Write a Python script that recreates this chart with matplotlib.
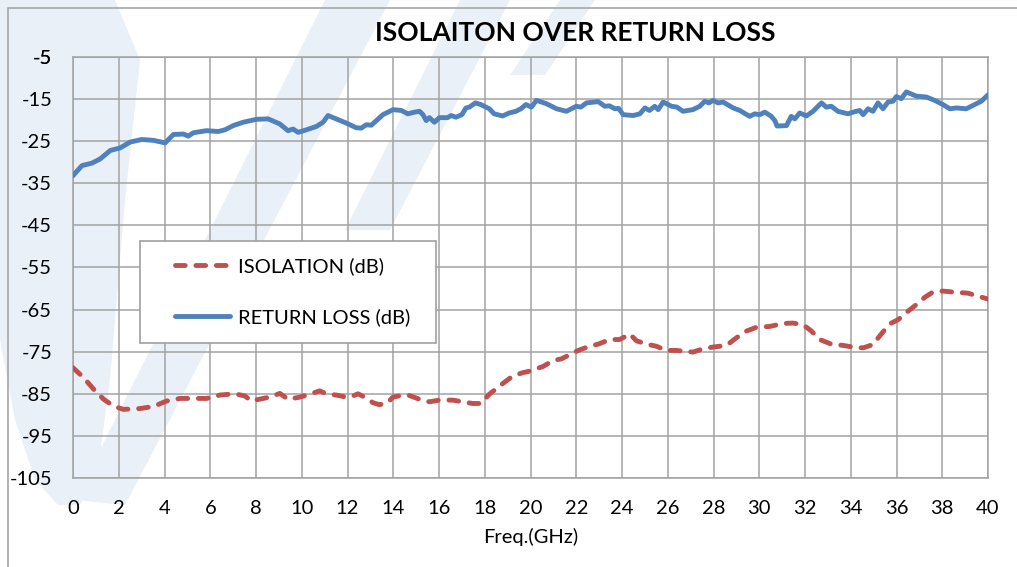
import matplotlib
matplotlib.use("Agg")
import matplotlib.pyplot as plt
from matplotlib.patches import Polygon, Rectangle

plt.rcParams['font.family'] = ['Lato', 'DejaVu Sans']
plt.rcParams['axes.unicode_minus'] = False

# return loss (blue, solid)
rl_freq = [0, 0.39, 0.83, 1.19, 1.63, 2.06, 2.5, 3.0, 3.52, 4.03,
           4.39, 4.83, 5.04, 5.26, 5.84, 6.35, 6.64, 7.0, 7.44, 8.02,
           8.53, 9.04, 9.4, 9.62, 9.84, 10.2, 10.64, 10.93, 11.15, 11.5,
           11.95, 12.38, 12.6, 12.82, 13.04, 13.55, 13.99, 14.35, 14.64, 14.93,
           15.15, 15.3, 15.44, 15.58, 15.8, 16.02, 16.38, 16.53, 16.74, 17.0,
           17.18, 17.33, 17.59, 17.83, 18.2, 18.41, 18.78, 19.07, 19.36, 19.58,
           19.8, 20.04, 20.26, 20.7, 21.14, 21.57, 22.0, 22.2, 22.45, 22.96,
           23.25, 23.45, 23.69, 23.85, 24.05, 24.49, 24.78, 25.0, 25.2, 25.43,
           25.58, 25.8, 26.16, 26.4, 26.67, 27.1, 27.4, 27.62, 27.8, 27.98,
           28.2, 28.42, 28.86, 29.15, 29.58, 29.8, 30.02, 30.24, 30.53, 30.68,
           30.78, 31.19, 31.4, 31.55, 31.77, 32.06, 32.35, 32.72, 32.93, 33.15,
           33.44, 33.88, 34.1, 34.39, 34.54, 34.76, 34.97, 35.19, 35.41, 35.63,
           35.85, 35.99, 36.21, 36.43, 36.87, 37.3, 37.67, 38.03, 38.33, 38.62,
           39.05, 39.34, 39.71, 40.0]
rl_db = [-33.2, -30.8, -30.2, -29.2, -27.2, -26.6, -25.2, -24.6, -24.8, -25.4,
         -23.4, -23.3, -23.8, -23.0, -22.5, -22.7, -22.3, -21.3, -20.5, -19.8,
         -19.7, -20.9, -22.5, -22.1, -22.9, -22.3, -21.5, -20.5, -18.9, -19.7,
         -20.7, -21.8, -21.9, -21.1, -21.2, -18.7, -17.5, -17.7, -18.5, -18.1,
         -17.9, -18.7, -20.1, -19.4, -20.5, -19.4, -19.4, -18.9, -19.3, -18.7,
         -17.1, -16.9, -15.9, -16.3, -17.3, -18.5, -19.0, -18.3, -17.9, -17.3,
         -16.3, -16.9, -15.3, -16.1, -17.3, -17.9, -16.7, -16.9, -15.9, -15.6,
         -16.7, -16.6, -17.3, -17.2, -18.7, -18.9, -18.5, -17.1, -17.7, -16.7,
         -17.5, -15.7, -16.7, -16.9, -17.9, -17.5, -16.7, -15.5, -15.9, -15.3,
         -15.9, -15.7, -17.1, -17.7, -19.1, -18.5, -18.7, -18.1, -19.1, -20.1,
         -21.4, -21.3, -19.1, -19.7, -18.3, -19.0, -17.9, -15.9, -16.9, -16.7,
         -17.9, -18.5, -18.1, -17.7, -18.7, -17.3, -17.9, -15.9, -17.3, -15.7,
         -15.5, -14.4, -14.9, -13.3, -14.3, -14.5, -15.3, -16.3, -17.3, -17.1,
         -17.3, -16.5, -15.5, -14.0]

# isolation (red, dashed)
iso_freq = [0, 0.47, 0.9, 1.34, 1.77, 2.2, 2.94, 3.52, 4.1, 4.68,
            5.26, 5.84, 6.42, 7.08, 7.51, 7.8, 8.31, 8.6, 9.04, 9.4,
            9.91, 10.35, 10.78, 11.08, 11.51, 11.95, 12.2, 12.46, 12.75, 13.11,
            13.4, 13.76, 13.98, 14.42, 14.7, 15.15, 15.58, 16.02, 16.6, 17.03,
            17.47, 17.83, 18.2, 18.78, 19.22, 19.65, 19.97, 20.55, 20.99, 21.35,
            21.72, 22.08, 22.59, 22.96, 23.47, 23.9, 24.34, 24.63, 25.07, 25.5,
            25.94, 26.38, 27.1, 27.55, 27.98, 28.57, 29.0, 29.44, 29.88, 30.46,
            31.04, 31.48, 31.92, 32.28, 32.64, 33.15, 33.66, 34.1, 34.54, 34.97,
            35.26, 35.7, 36.07, 36.5, 36.87, 37.23, 37.6, 38.03, 38.62, 39.13,
            39.56, 40.0]
iso_db = [-78.8, -81.2, -83.9, -86.3, -87.9, -88.7, -88.5, -88.0, -86.7, -86.1,
          -86.1, -86.1, -85.3, -85.0, -85.5, -86.7, -86.1, -85.8, -84.9, -86.3,
          -85.8, -85.1, -84.3, -85.0, -85.3, -85.8, -85.6, -85.0, -85.8, -87.1,
          -87.6, -87.1, -85.8, -85.3, -85.4, -86.3, -86.9, -86.5, -86.5, -86.9,
          -87.3, -87.3, -85.1, -82.6, -80.8, -80.0, -79.6, -78.5, -77.1, -76.7,
          -75.7, -74.7, -73.7, -73.2, -72.1, -72.1, -70.8, -72.4, -73.2, -73.7,
          -74.7, -74.7, -75.1, -74.3, -73.9, -73.5, -71.7, -70.1, -69.2, -69.0,
          -68.3, -68.2, -68.6, -70.1, -72.1, -73.2, -73.5, -73.9, -74.1, -73.3,
          -71.3, -68.4, -67.4, -65.4, -63.8, -62.1, -60.8, -60.6, -60.9, -61.1,
          -61.8, -62.5]

x_ticks = list(range(0, 41, 2))
y_ticks = list(range(-105, 0, 10))

W, H = 1017, 567
fig = plt.figure(figsize=(W / 100, H / 100), dpi=100)

def px(pts):
    return [(x / W, 1 - y / H) for x, y in pts]

# faint logo watermark behind the chart
wm = '#EAF0F8'
shapes = [
    [(0, 0), (115, 0), (140, 60), (125, 200), (110, 380), (98, 470), (80, 505), (58, 505), (35, 480), (15, 420), (0, 340)],
    [(75, 500), (125, 505), (390, 0), (325, 0)],
    [(345, 230), (390, 230), (510, 0), (460, 0)],
    [(510, 75), (545, 75), (595, 0), (560, 0)],
]
for s in shapes:
    fig.add_artist(Polygon(px(s), closed=True, facecolor=wm, edgecolor='none', zorder=-5))

# outer chart frame
fig.add_artist(Rectangle((8 / W, -0.1), 1.2, 1 - 8 / H + 0.1, facecolor='none',
                         edgecolor='#A6A6A6', lw=1.2, zorder=-4))

ax = fig.add_axes([73 / W, 1 - 478 / H, 915 / W, 421 / H])
ax.set_facecolor('none')

grid_c = '#A3A3A3'
ax.plot(iso_freq, iso_db, color='#C0504D', lw=3.5, dashes=(2.0, 2.2),
        dash_capstyle='round', solid_capstyle='round', label='ISOLATION (dB)', zorder=3)
ax.plot(rl_freq, rl_db, color='#4F81BD', lw=3.5, solid_capstyle='round',
        solid_joinstyle='round', label='RETURN LOSS (dB)', zorder=3)

ax.set_xlim(0, 40)
ax.set_ylim(-105, -5)
ax.set_xticks(x_ticks)
ax.set_yticks(y_ticks + [-5])
ax.grid(True, color=grid_c, lw=1.1)
ax.set_axisbelow(True)
for sp in ax.spines.values():
    sp.set_color(grid_c)
    sp.set_linewidth(1.1)
ax.tick_params(length=0, labelsize=14.5, colors='#000000')
ax.tick_params(axis='x', pad=16)
ax.tick_params(axis='y', pad=15)
ax.set_xlabel('Freq.(GHz)', fontsize=14.5, labelpad=8)

# legend box
ax.add_patch(Rectangle(((140 - 73) / 915, (478 - 343) / 421), 296 / 915, 102 / 421,
                       transform=ax.transAxes, facecolor='white', edgecolor='#A0A0A0',
                       lw=1.2, zorder=4))
leg = ax.legend(loc='upper left', bbox_to_anchor=((175 - 73) / 915, (478 - 257) / 421),
                frameon=False, fontsize=14.5, handlelength=2.75, handletextpad=0.4,
                labelspacing=1.65, borderpad=0, borderaxespad=0)
leg.set_zorder(5)

fig.text(575 / W, 1 - 33 / H, 'ISOLAITON OVER RETURN LOSS', ha='center', va='center',
         fontsize=19, fontweight='bold')

fig.savefig('out.png', dpi=100)
